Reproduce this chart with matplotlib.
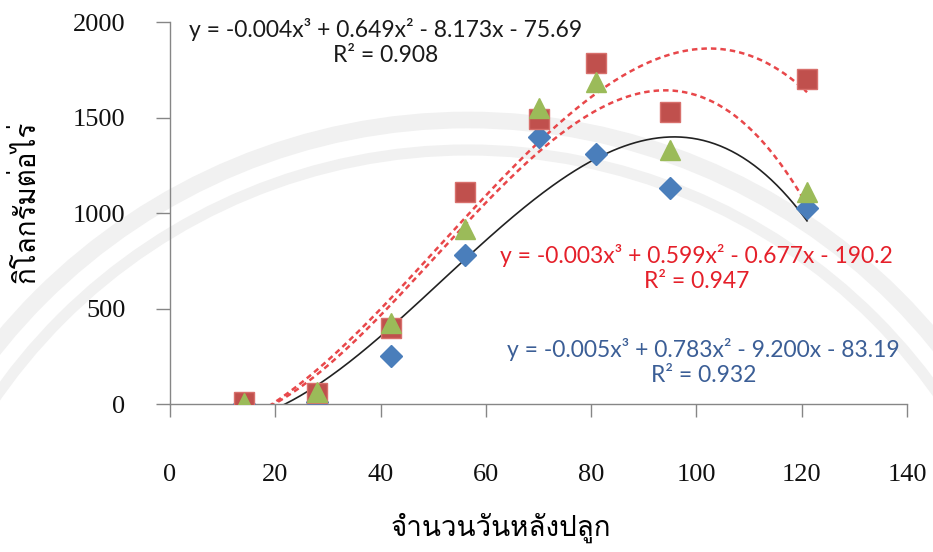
import numpy as np
import matplotlib
matplotlib.use("Agg")
import matplotlib.pyplot as plt
from matplotlib import font_manager
from matplotlib.ft2font import FT2Font
from matplotlib.patches import Circle

# ข้อมูลผลผลิต (กิโลกรัมต่อไร่) ตามจำนวนวันหลังปลูก
days = [14, 28, 42, 56, 70, 81, 95, 121]
yield_blue = [0, 10, 251, 780, 1400, 1309, 1131, 1026]
yield_red = [10, 58, 398, 1110, 1492, 1785, 1529, 1702]
yield_green = [5, 63, 424, 915, 1550, 1686, 1330, 1110]

eq_black = "y = -0.004x³ + 0.649x² - 8.173x - 75.69\nR² = 0.908"
eq_red = "y = -0.003x³ + 0.599x² - 0.677x - 190.2\nR² = 0.947"
eq_blue = "y = -0.005x³ + 0.783x² - 9.200x - 83.19\nR² = 0.932"

x_ticks = [0, 20, 40, 60, 80, 100, 120, 140]
y_ticks = [0, 500, 1000, 1500, 2000]

# หาฟอนต์ที่มีอักษรไทย
thai_font = "DejaVu Sans"
for f in font_manager.fontManager.ttflist:
    try:
        if ord("ก") in FT2Font(f.fname).get_charmap():
            thai_font = f.name
            break
    except Exception:
        pass

fig = plt.figure(figsize=(9.33, 5.52), dpi=100)

# ลายน้ำวงกลมจาง ๆ ด้านหลัง
bg = fig.add_axes([0, 0, 1, 1], zorder=-1)
bg.set_xlim(0, 933)
bg.set_ylim(552, 0)
bg.axis("off")
for r, w in [(605, 12), (575, 8)]:
    bg.add_patch(Circle((468, 725), r, fill=False, lw=w, color="#f1f1f1"))

ax = fig.add_axes([0.1822, 0.2681, 0.790, 0.692])
ax.patch.set_alpha(0)

x = np.array(days, dtype=float)
xs = np.linspace(x.min(), x.max(), 300)

# เส้นแนวโน้มโพลิโนเมียลกำลังสาม
fit_blue = np.polyval(np.polyfit(x, yield_blue, 3), xs)
fit_red = np.polyval(np.polyfit(x, yield_red, 3), xs)
fit_green = np.polyval(np.polyfit(x, yield_green, 3), xs)
ax.plot(xs, fit_blue, color="#222222", lw=1.2, zorder=2)
ax.plot(xs, fit_red, color="#e8474a", lw=1.8, ls=(0, (2.2, 1.6)), zorder=2)
ax.plot(xs, fit_green, color="#e8474a", lw=1.8, ls=(0, (2.2, 1.6)), zorder=2)

ax.plot(days, yield_blue, "D", color="#4a7ebb", ms=11, mec="#4a7ebb", zorder=3)
ax.plot(days, yield_red, "s", color="#c0504d", ms=14, mec="#d8706c", zorder=4)
ax.plot(days, yield_green, "^", color="#9bbb59", ms=15, mec="#9bbb59", zorder=5)

ax.set_xlim(0, 140)
ax.set_ylim(0, 2000)
ax.set_xticks(x_ticks)
ax.set_yticks(y_ticks)
ax.spines["top"].set_visible(False)
ax.spines["right"].set_visible(False)
for s in ["left", "bottom"]:
    ax.spines[s].set_color("#868686")
    ax.spines[s].set_linewidth(1.0)
ax.tick_params(axis="x", direction="out", length=9, width=1, color="#868686", pad=34,
               labelsize=19, labelcolor="#111111", labelfontfamily="Liberation Serif")
ax.tick_params(axis="y", direction="out", length=10, width=1, color="#868686", pad=22,
               labelsize=19, labelcolor="#111111", labelfontfamily="Liberation Serif")

ax.set_xlabel("จำนวนวันหลังปลูก", family=[thai_font, "DejaVu Sans"], fontsize=20)
ax.set_ylabel("กิโลกรัมต่อไร่", family=[thai_font, "DejaVu Sans"], fontsize=20)
ax.xaxis.set_label_coords(0.449, -0.285)
ax.yaxis.set_label_coords(-0.176, 0.529)

ax.text(41, 1895, eq_black, ha="center", va="center", fontsize=16.5, family="Lato",
        color="#1a1a1a", linespacing=1.25)
ax.text(100, 712, eq_red, ha="center", va="center", fontsize=16.5, family="Lato",
        color="#e5202a", linespacing=1.25)
ax.text(101.3, 220, eq_blue, ha="center", va="center", fontsize=16.5, family="Lato",
        color="#3b5e96", linespacing=1.25)

fig.savefig("out.png", dpi=100)
